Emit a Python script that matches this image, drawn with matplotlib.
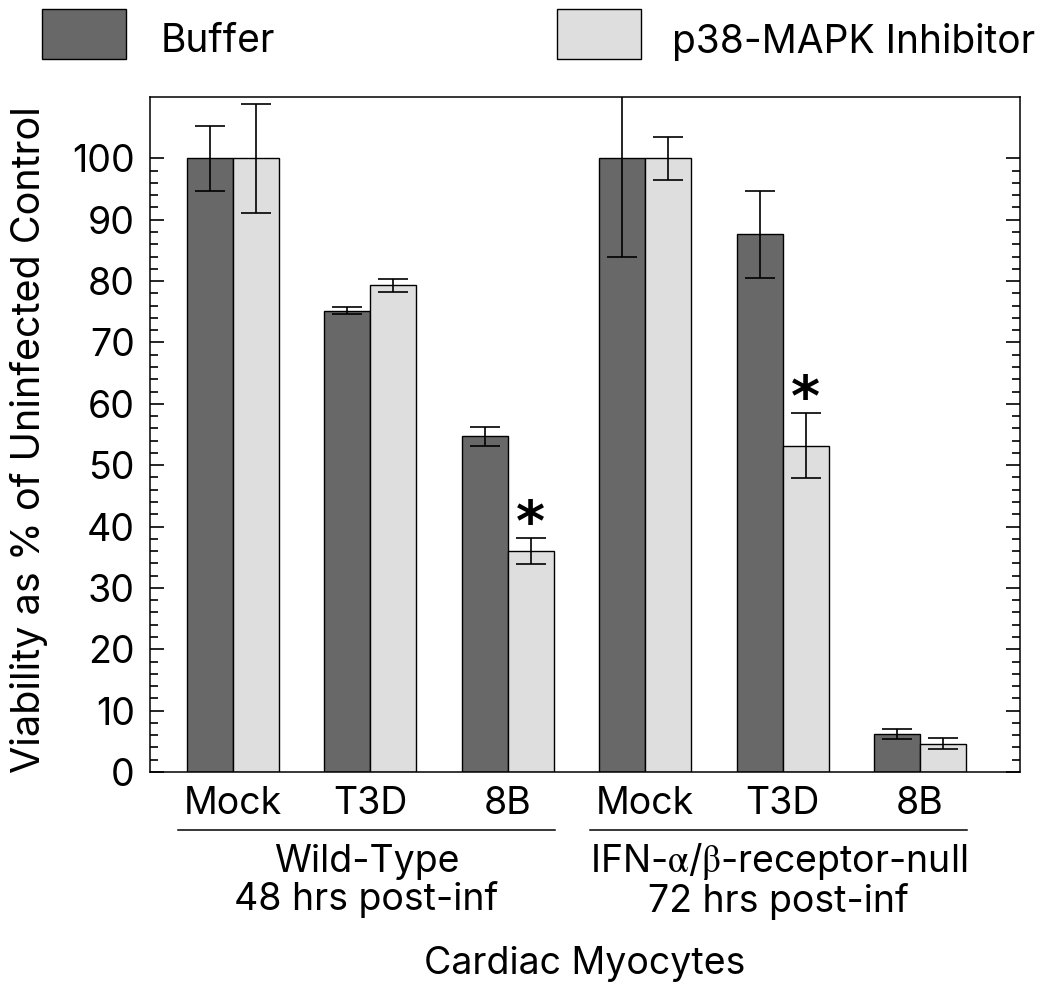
import numpy as np
import matplotlib.pyplot as plt
from matplotlib.patches import Rectangle
import matplotlib.transforms as mtransforms

plt.rcParams['font.family'] = ['Inter', 'Liberation Sans', 'DejaVu Sans']
plt.rcParams['mathtext.fontset'] = 'stix'

# data
strains = ['Mock', 'T3D', '8B', 'Mock', 'T3D', '8B']
buffer_vals = [100, 75.2, 54.7, 100, 87.6, 6.2]
buffer_err = [5.3, 0.5, 1.5, 16.0, 7.1, 0.8]
inhib_vals = [100, 79.3, 36.0, 100, 53.2, 4.6]
inhib_err = [8.9, 1.1, 2.1, 3.5, 5.3, 0.9]
significant = [False, False, True, False, True, False]
group_names = ['Wild-Type\n48 hrs post-inf', 'IFN-$\\mathrm{\\alpha}$/$\\mathrm{\\beta}$-receptor-null\n72 hrs post-inf']
series_names = ['Buffer', 'p38-MAPK Inhibitor']

dark = '#686868'
light = '#dedede'
fs = 27

fig = plt.figure(figsize=(10.5, 9.94), dpi=100)
ax = fig.add_axes([0.1429, 0.2233, 0.8286, 0.6791])

x = np.arange(len(strains))
w = 0.335
ekw = dict(fmt='none', ecolor='black', elinewidth=1.2, capsize=11, capthick=1.2)
ax.bar(x - w/2, buffer_vals, w, color=dark, edgecolor='black', linewidth=1.0)
ax.bar(x + w/2, inhib_vals, w, color=light, edgecolor='black', linewidth=1.0)
ax.errorbar(x - w/2, buffer_vals, yerr=buffer_err, **ekw)
ax.errorbar(x + w/2, inhib_vals, yerr=inhib_err, **ekw)

# asterisks for significance
for i in range(len(strains)):
    if significant[i]:
        ax.text(x[i] + w/2, inhib_vals[i] + inhib_err[i] - 2.2, '*', ha='center', va='bottom',
                fontsize=40, family='DejaVu Sans', weight='bold', color='black')

ax.set_xlim(-0.604, 5.728)
ax.set_ylim(0, 110)
ax.set_yticks(np.arange(0, 101, 10))
ax.set_yticks(np.arange(0, 101, 2), minor=True)
ax.tick_params(axis='y', which='both', direction='in', left=True, right=True, width=1.2, labelsize=fs, pad=11)
ax.tick_params(axis='y', which='major', length=10)
ax.tick_params(axis='y', which='minor', length=6)
ax.set_xticks(x)
ax.set_xticklabels(strains)
ax.tick_params(axis='x', length=0, labelsize=fs, pad=10)
for s in ax.spines.values():
    s.set_linewidth(1.1)

# group lines and labels below the axis
trans = mtransforms.blended_transform_factory(ax.transData, ax.transAxes)
for g in range(2):
    x0 = x[3*g] - 0.40
    x1 = x[3*g + 2] + 0.34
    ax.plot([x0, x1], [-0.086, -0.086], color='black', lw=1.1, transform=trans, clip_on=False)
    ax.text((x0 + x1) / 2, -0.161, group_names[g], transform=trans, ha='center', va='center',
            fontsize=fs, linespacing=1.05)
ax.text(0.5, -0.285, 'Cardiac Myocytes', transform=ax.transAxes, ha='center', va='center', fontsize=fs)

fig.text(29/1050, 1 - 440/994, 'Viability as % of Uninfected Control', rotation=90,
         ha='center', va='center', fontsize=fs + 1.5)

# legend drawn at the top
fig.patches.append(Rectangle((42/1050, 1 - 59/994), 84/1050, 50/994, transform=fig.transFigure,
                             facecolor=dark, edgecolor='black', lw=1.0))
fig.patches.append(Rectangle((557/1050, 1 - 59/994), 84/1050, 50/994, transform=fig.transFigure,
                             facecolor=light, edgecolor='black', lw=1.0))
fig.text(161/1050, 1 - 42/994, series_names[0], ha='left', va='center', fontsize=fs + 1)
fig.text(672/1050, 1 - 42/994, series_names[1], ha='left', va='center', fontsize=fs + 1)

fig.savefig('out.png', dpi=100)
